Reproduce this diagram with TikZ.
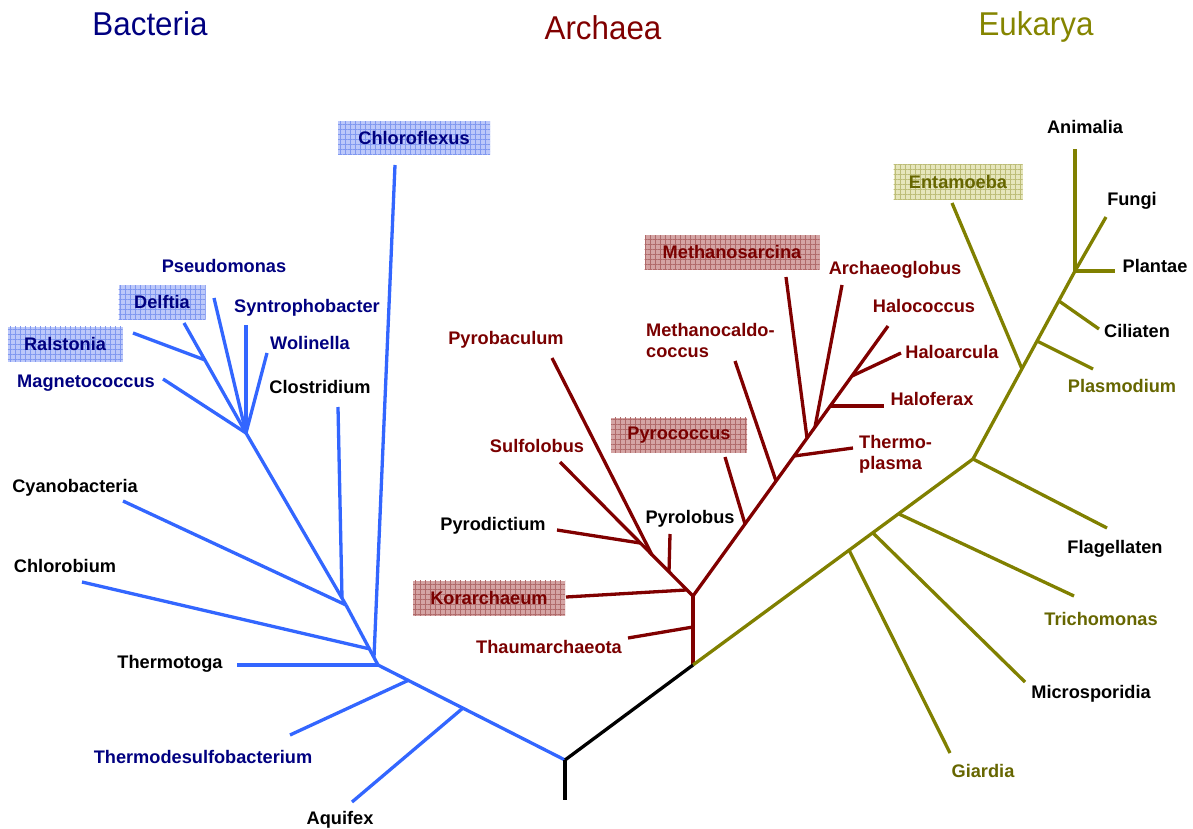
\documentclass[tikz,border=0pt]{standalone}
\usepackage{fontspec}
\setmainfont{Liberation Sans}
\usetikzlibrary{patterns.meta}
\definecolor{bline}{HTML}{3366FF}
\definecolor{btext}{HTML}{000080}
\definecolor{aline}{HTML}{800000}
\definecolor{atext}{HTML}{7A0000}
\definecolor{eline}{HTML}{808000}
\definecolor{etext}{HTML}{666600}
\definecolor{etitle}{HTML}{858500}
\definecolor{bfill}{HTML}{BCC8FA}
\definecolor{bhatch}{HTML}{8098F0}
\definecolor{afill}{HTML}{D4A4A4}
\definecolor{ahatch}{HTML}{B06A6A}
\definecolor{efill}{HTML}{E6E6BC}
\definecolor{ehatch}{HTML}{BDBD78}
\begin{document}
\begin{tikzpicture}[x=1pt,y=-1pt,
  lab/.style={font=\bfseries\fontsize{18.2}{21}\selectfont, inner sep=0pt, anchor=mid, yshift=-2pt},
  mlab/.style={font=\bfseries\fontsize{18.2}{21}\selectfont, inner sep=0pt, anchor=north west, align=left, yshift=-1pt},
  title/.style={font=\fontsize{33}{36}\selectfont, inner sep=0pt, anchor=base},
  hbox/.style={font=\bfseries\fontsize{18.2}{21}\selectfont, inner sep=0pt, anchor=center},
  bhl/.style={hbox, fill=bfill, postaction={pattern={Hatch[angle=0,distance=5pt,line width=0.5pt]}, pattern color=bhatch}},
  ahl/.style={hbox, fill=afill, postaction={pattern={Hatch[angle=0,distance=5pt,line width=0.5pt]}, pattern color=ahatch}},
  ehl/.style={hbox, fill=efill, postaction={pattern={Hatch[angle=0,distance=5pt,line width=0.5pt]}, pattern color=ehatch}},
  bbr/.style={draw=bline, line width=3.3pt},
  abr/.style={draw=aline, line width=3.3pt},
  ebr/.style={draw=eline, line width=3.3pt},
  kbr/.style={draw=black, line width=3.3pt}
]
\useasboundingbox (0,0) rectangle (1193,829);

% ---------- titles ----------
\node[title, text=btext] (tB) at (150,36) {\scalebox{0.95}[1]{Bacteria}};
\node[title, text=aline] (tA) at (603,40) {\scalebox{0.95}[1]{Archaea}};
\node[title, text=etitle] (tE) at (1036,36) {\scalebox{0.95}[1]{Eukarya}};

% ---------- bacteria coordinates ----------
\coordinate (root) at (565,760);
\coordinate (rootB) at (565,800);
\coordinate (J3) at (378,665);
\coordinate (jThd) at (409,680);
\coordinate (jAqu) at (463,708);
\coordinate (thdE) at (290,735);
\coordinate (aquE) at (352,802);
\coordinate (thtE) at (237,665);
\coordinate (J2) at (346,605);
\coordinate (jChb) at (370,649);
\coordinate (chbE) at (82,582);
\coordinate (jChf) at (374,657);
\coordinate (chfE) at (395,165);
\coordinate (cyaE) at (123,501);
\coordinate (cloE) at (338,407);
\coordinate (jClo) at (342,598);
\coordinate (J1) at (246,433);
\coordinate (magE) at (163,379);
\coordinate (ralE) at (133,333);
\coordinate (jRal) at (205,360);
\coordinate (delE) at (184,323);
\coordinate (pseE) at (214,298);
\coordinate (synE) at (246,325);
\coordinate (wolE) at (267,353);

\draw[bbr] (J3) -- (root);
\draw[bbr] (jThd) -- (thdE);
\draw[bbr] (jAqu) -- (aquE);
\draw[bbr] (J3) -- (thtE);
\draw[bbr] (J3) -- (J2);
\draw[bbr] (jChb) -- (chbE);
\draw[bbr] (jChf) -- (chfE);
\draw[bbr] (J2) -- (cyaE);
\draw[bbr] (jClo) -- (cloE);
\draw[bbr] (J2) -- (J1);
\draw[bbr] (J1) -- (magE);
\draw[bbr] (J1) -- (delE);
\draw[bbr] (jRal) -- (ralE);
\draw[bbr] (J1) -- (pseE);
\draw[bbr] (J1) -- (synE);
\draw[bbr] (J1) -- (wolE);

% ---------- bacteria labels ----------
\node[bhl, text=btext, minimum width=152, minimum height=33] (chf) at (414,138) {Chloroflexus};
\node[lab, text=btext] (pse) at (224,268) {Pseudomonas};
\node[bhl, text=btext, minimum width=87, minimum height=34] (del) at (162,302) {Delftia};
\node[lab, text=btext] (syn) at (307,308) {Syntrophobacter};
\node[bhl, text=btext, minimum width=115, minimum height=35] (ral) at (65,344) {Ralstonia};
\node[lab, text=btext] (wol) at (310,345) {Wolinella};
\node[lab, text=btext] (mag) at (86,383) {Magnetococcus};
\node[lab] (clo) at (320,389) {Clostridium};
\node[lab] (cya) at (75,488) {Cyanobacteria};
\node[lab] (chb) at (65,568) {Chlorobium};
\node[lab] (tht) at (170,664) {Thermotoga};
\node[lab, text=btext] (thd) at (203,759) {Thermodesulfobacterium};
\node[lab] (aqu) at (340,820) {Aquifex};

% ---------- archaea coordinates ----------
\coordinate (aBase) at (693,665);
\coordinate (A1) at (693,596);
\coordinate (jTha) at (693,627);
\coordinate (thaE) at (628,638);
\coordinate (jKor) at (686,590);
\coordinate (korE) at (566,597);
\coordinate (jPyl) at (669,572);
\coordinate (pylE) at (670,534);
\coordinate (A2) at (652,555);
\coordinate (pybE) at (552,358);
\coordinate (jPyd) at (640,543);
\coordinate (pydE) at (557,530);
\coordinate (sulE) at (560,462);
\coordinate (jPyc) at (745,524);
\coordinate (pycE) at (725,457);
\coordinate (jMcc) at (776,481);
\coordinate (mccE) at (735,361);
\coordinate (jTpl) at (794,456);
\coordinate (tplE) at (853,448);
\coordinate (jMsa) at (807,438);
\coordinate (msaE) at (786,277);
\coordinate (jAgl) at (815,427);
\coordinate (aglE) at (842,285);
\coordinate (jHfx) at (830,406);
\coordinate (hfxE) at (884,406);
\coordinate (jHar) at (852,376);
\coordinate (harE) at (901,353);
\coordinate (hccE) at (888,326);

\draw[abr] (aBase) -- (A1);
\draw[abr] (jTha) -- (thaE);
\draw[abr] (jKor) -- (korE);
\draw[abr] (A1) -- (sulE);
\draw[abr] (jPyl) -- (pylE);
\draw[abr] (A2) -- (pybE);
\draw[abr] (jPyd) -- (pydE);
\draw[abr] (A1) -- (hccE);
\draw[abr] (jPyc) -- (pycE);
\draw[abr] (jMcc) -- (mccE);
\draw[abr] (jTpl) -- (tplE);
\draw[abr] (jMsa) -- (msaE);
\draw[abr] (jAgl) -- (aglE);
\draw[abr] (jHfx) -- (hfxE);
\draw[abr] (jHar) -- (harE);

% ---------- archaea labels ----------
\node[lab, text=atext] (pyb) at (506,340) {Pyrobaculum};
\node[lab, text=atext] (sul) at (537,448) {Sulfolobus};
\node[lab] (pyd) at (493,526) {Pyrodictium};
\node[lab] (pyl) at (690,519) {Pyrolobus};
\node[ahl, text=atext, minimum width=136, minimum height=35] (pyc) at (679,435) {Pyrococcus};
\node[ahl, text=atext, minimum width=152, minimum height=35] (kor) at (489,598) {Korarchaeum};
\node[lab, text=atext] (tha) at (549,649) {Thaumarchaeota};
\node[mlab, text=atext] (mcc) at (646,322.5) {Methanocaldo-\\coccus};
\node[ahl, text=atext, minimum width=175, minimum height=34] (msa) at (732,252) {Methanosarcina};
\node[lab, text=atext] (agl) at (895,270) {Archaeoglobus};
\node[lab, text=atext] (hcc) at (924,308) {Halococcus};
\node[lab, text=atext] (har) at (952,354) {Haloarcula};
\node[lab, text=atext] (hfx) at (932,401) {Haloferax};
\node[mlab, text=atext] (tpl) at (859,434.5) {Thermo-\\plasma};

% ---------- eukarya coordinates ----------
\coordinate (E1) at (973,459);
\coordinate (jGia) at (849,550);
\coordinate (giaE) at (950,753);
\coordinate (jMic) at (873,533);
\coordinate (micE) at (1025,682);
\coordinate (jTri) at (899,514);
\coordinate (triE) at (1074,596);
\coordinate (flaE) at (1107,528);
\coordinate (E2) at (1022,369);
\coordinate (entE) at (952,203);
\coordinate (E3) at (1037,341);
\coordinate (plaE) at (1093,369);
\coordinate (E4) at (1059,301);
\coordinate (cilE) at (1099,329);
\coordinate (E5) at (1075,271);
\coordinate (aniE) at (1075,149);
\coordinate (funE) at (1106,217);
\coordinate (plnE) at (1115,271);

\draw[ebr] (aBase) -- (E1);
\draw[ebr] (jGia) -- (giaE);
\draw[ebr] (jMic) -- (micE);
\draw[ebr] (jTri) -- (triE);
\draw[ebr] (E1) -- (flaE);
\draw[ebr] (E1) -- (E5);
\draw[ebr] (E2) -- (entE);
\draw[ebr] (E3) -- (plaE);
\draw[ebr] (E4) -- (cilE);
\draw[ebr] (E5) -- (aniE);
\draw[ebr] (E5) -- (funE);
\draw[ebr] (E5) -- (plnE);

% ---------- eukarya labels ----------
\node[ehl, text=etext, minimum width=129, minimum height=35] (ent) at (958,182) {Entamoeba};
\node[lab] (ani) at (1085,129) {Animalia};
\node[lab] (fun) at (1132,201) {Fungi};
\node[lab] (pln) at (1155,268) {Plantae};
\node[lab] (cil) at (1137,333) {Ciliaten};
\node[lab, text=etext] (pla) at (1122,388) {Plasmodium};
\node[lab] (fla) at (1115,549) {Flagellaten};
\node[lab, text=etext] (tri) at (1101,621) {Trichomonas};
\node[lab] (mic) at (1091,694) {Microsporidia};
\node[lab, text=etext] (gia) at (983,773) {Giardia};

% ---------- root ----------
\draw[kbr] (root) -- (rootB);
\draw[kbr] (root) -- (aBase);
\end{tikzpicture}
\end{document}
